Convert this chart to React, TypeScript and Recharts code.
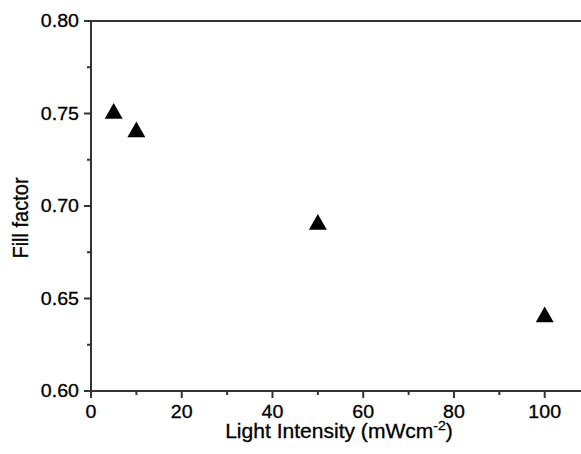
import { ScatterChart, Scatter, XAxis, YAxis, ReferenceLine, Symbols } from "recharts";

// light intensity (mW/cm^2) and measured fill factor
const intensity = [5, 10, 50, 100];
const fillFactor = [0.75, 0.74, 0.69, 0.64];

const xTicks = [0, 10, 20, 30, 40, 50, 60, 70, 80, 90, 100];
const yTicks = [0.6, 0.625, 0.65, 0.675, 0.7, 0.725, 0.75, 0.775, 0.8];

const data = intensity.map((x, i) => ({ x, y: fillFactor[i] }));

const AXIS = "#333333";
const FONT = "'Liberation Sans', Arial, Helvetica, sans-serif";
const TEXT_STROKE = 0.3;

const X_TICK_SIZE = 7;
const X_TICK_MARGIN = 7;
const Y_TICK_SIZE = 7;
const Y_TICK_MARGIN = 5;

function XTick(props: any) {
  const { x, y, payload, index } = props;
  const axisY = y - X_TICK_SIZE - X_TICK_MARGIN;
  const major = index % 2 === 0;
  return (
    <g>
      <line x1={x} x2={x} y1={axisY} y2={axisY + (major ? 7 : 4)} stroke={AXIS} strokeWidth={2} />
      {major && (
        <text
          transform={`translate(${x},${y}) scale(1.12,1)`}
          textAnchor="middle"
          dy="0.72em"
          fontSize={17.5}
          fontFamily={FONT}
          fill="#000"
          stroke="#000"
          strokeWidth={TEXT_STROKE}
        >
          {payload.value}
        </text>
      )}
    </g>
  );
}

function YTick(props: any) {
  const { x, y, payload, index } = props;
  const axisX = x + Y_TICK_SIZE + Y_TICK_MARGIN;
  const major = index % 2 === 0;
  return (
    <g>
      <line x1={axisX} x2={axisX - (major ? 7 : 4)} y1={y} y2={y} stroke={AXIS} strokeWidth={2} />
      {major && (
        <text
          transform={`translate(${x},${y}) scale(1.12,1)`}
          textAnchor="end"
          dy="0.36em"
          fontSize={17.5}
          fontFamily={FONT}
          fill="#000"
          stroke="#000"
          strokeWidth={TEXT_STROKE}
        >
          {Number(payload.value).toFixed(2)}
        </text>
      )}
    </g>
  );
}

function YTitle(props: any) {
  const { viewBox } = props;
  const cx = viewBox.x + 20;
  const cy = viewBox.y + viewBox.height / 2 + 12;
  return (
    <text
      transform={`translate(${cx},${cy}) rotate(-90) scale(1,1.12)`}
      textAnchor="middle"
      dy="0.36em"
      fontSize={20}
      fontFamily={FONT}
      fill="#000"
      stroke="#000"
      strokeWidth={TEXT_STROKE}
    >
      Fill factor
    </text>
  );
}

function XTitle(props: any) {
  const { viewBox } = props;
  const cx = viewBox.x + viewBox.width / 2 + 3;
  const cy = viewBox.y + 47;
  return (
    <text
      transform={`translate(${cx},${cy}) scale(1.08,1)`}
      textAnchor="middle"
      fontSize={19.5}
      fontFamily={FONT}
      fill="#000"
      stroke="#000"
      strokeWidth={TEXT_STROKE}
    >
      Light Intensity (mWcm
      <tspan fontSize={13} dy={-8}>
        -2
      </tspan>
      <tspan dy={8}>)</tspan>
    </text>
  );
}

function Triangle(props: any) {
  return <Symbols cx={props.cx} cy={props.cy} type="triangle" size={140} fill="#000" />;
}

export default function App() {
  return (
    <div style={{ position: "absolute", left: 0, top: 0, background: "#fff" }}>
      <ScatterChart width={581} height={454} margin={{ top: 21, right: 0, bottom: 0, left: 0 }}>
        <XAxis
          type="number"
          dataKey="x"
          domain={[0, 108]}
          ticks={xTicks}
          interval={0}
          height={63}
          tickSize={X_TICK_SIZE}
          tickMargin={X_TICK_MARGIN}
          tickLine={false}
          axisLine={{ stroke: AXIS, strokeWidth: 2 }}
          tick={<XTick />}
          label={<XTitle />}
        />
        <YAxis
          type="number"
          dataKey="y"
          domain={[0.6, 0.8]}
          ticks={yTicks}
          interval={0}
          width={91}
          tickSize={Y_TICK_SIZE}
          tickMargin={Y_TICK_MARGIN}
          tickLine={false}
          axisLine={{ stroke: AXIS, strokeWidth: 2 }}
          tick={<YTick />}
          label={<YTitle />}
        />
        <ReferenceLine y={0.8} stroke={AXIS} strokeWidth={2} />
        <Scatter data={data} shape={<Triangle />} fill="#000" isAnimationActive={false} />
      </ScatterChart>
    </div>
  );
}
